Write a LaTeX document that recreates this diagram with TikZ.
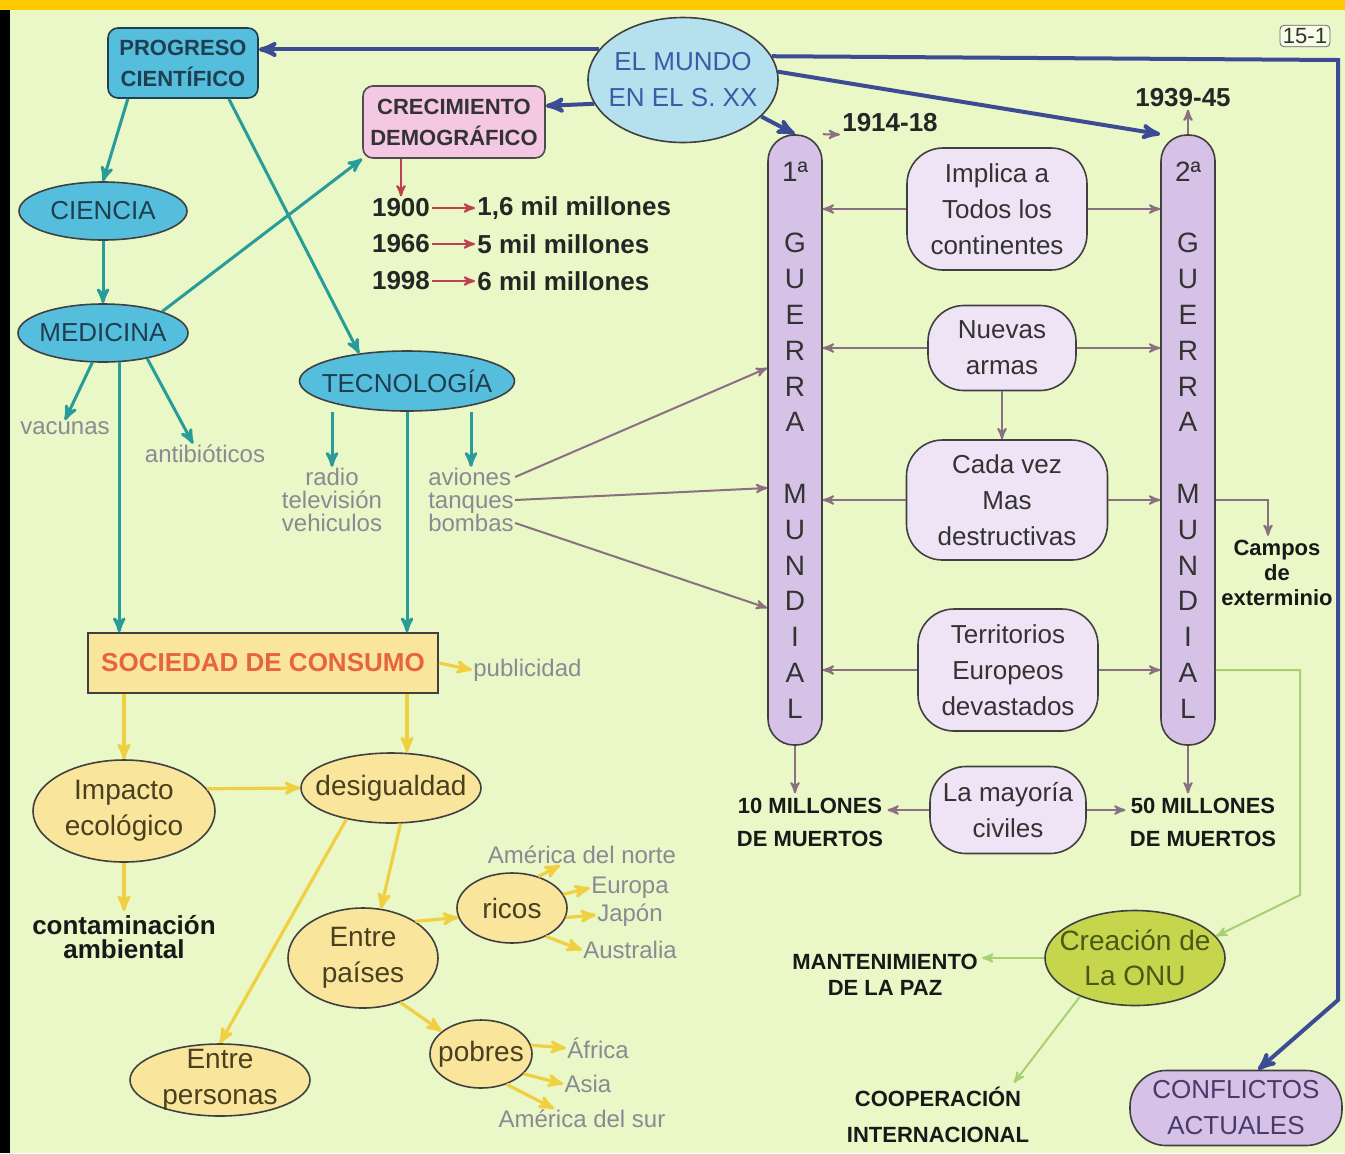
\documentclass[tikz,border=0pt]{standalone}
\usepackage{fontspec}
\setmainfont{Liberation Sans}
\usetikzlibrary{shapes,arrows,positioning,shapes.geometric,calc}
\definecolor{bggreen}{HTML}{EAF7C6}
\definecolor{topbar}{HTML}{FFC800}
\definecolor{cyanfill}{HTML}{55BEDD}
\definecolor{cyanink}{HTML}{1F3F50}
\definecolor{skyfill}{HTML}{B5E0EE}
\definecolor{skyink}{HTML}{3A5CA8}
\definecolor{pinkfill}{HTML}{F4C8E2}
\definecolor{navyc}{HTML}{3C4C94}
\definecolor{tealc}{HTML}{289C98}
\definecolor{redc}{HTML}{C04050}
\definecolor{lilac}{HTML}{8A7080}
\definecolor{warfill}{HTML}{D6C2E6}
\definecolor{lilafill}{HTML}{EEE4F5}
\definecolor{yelfill}{HTML}{F9E69C}
\definecolor{yelc}{HTML}{F0D040}
\definecolor{yelink}{HTML}{4A4020}
\definecolor{orangeink}{HTML}{E8643C}
\definecolor{greyink}{HTML}{8A8A94}
\definecolor{greenc}{HTML}{A8D070}
\definecolor{onufill}{HTML}{C6D64C}
\definecolor{onuink}{HTML}{4A5818}
\definecolor{conflink}{HTML}{4A3A6A}
\definecolor{darkink}{HTML}{333333}
\begin{document}
\begin{tikzpicture}[x=0.5pt,y=-0.5pt,->,>=stealth',
    navy/.style={draw=navyc,line width=2pt},
    tealln/.style={draw=tealc,line width=1.5pt},
    yelln/.style={draw=yelc,line width=1.6pt},
    lila/.style={draw=lilac,line width=1pt},
    redln/.style={draw=redc,line width=1pt},
    greenln/.style={draw=greenc,line width=1pt},
    oval/.style={ellipse,draw=black!75,line width=.8pt,inner sep=0pt},
    blueoval/.style={oval,fill=cyanfill},
    yeloval/.style={oval,fill=yelfill},
    bluetxt/.style={text=cyanink,font=\fontsize{13}{16}\selectfont},
    yeltxt/.style={align=center,text=yelink,font=\fontsize{14}{18}\selectfont},
    lilanode/.style={draw=black!75,line width=.8pt,fill=lilafill,rounded corners=18pt,align=center,text=darkink,font=\fontsize{13}{18}\selectfont,inner sep=2pt},
    warbar/.style={draw=black!75,line width=.8pt,fill=warfill,rounded corners=13pt,minimum width=27pt,minimum height=305pt,align=center,text=darkink,font=\fontsize{14}{17.9}\selectfont,inner sep=0pt},
    greylbl/.style={text=greyink,align=center,inner sep=0.5pt,font=\fontsize{12}{11.5}\selectfont},
    note/.style={text=black!90,align=center,inner sep=2pt,font=\bfseries\fontsize{11}{16.5}\selectfont},
    year/.style={text=black!85,inner sep=1pt,font=\bfseries\fontsize{13}{16}\selectfont}]
\useasboundingbox (0,0) rectangle (1345,1153);
\fill[black] (0,0) rectangle (1345,1153);
\fill[bggreen] (10,10) rectangle (1345,1153);
\fill[topbar] (0,0) rectangle (1345,10);

\node[draw=black!60,fill=white!60!bggreen,rounded corners=2pt,inner sep=1.5pt,text=darkink,font=\fontsize{11}{13}\selectfont] (tag) at (1305,36) {15-1};
\node[oval,fill=skyfill,minimum width=95pt,minimum height=62.5pt,label={[align=center,text=skyink,font=\fontsize{13}{18}\selectfont]center:EL MUNDO\\EN EL S. XX}] (mundo) at (683,80) {};
\node[draw=cyanink,line width=.8pt,fill=cyanfill,rounded corners=5pt,minimum width=75pt,minimum height=35pt,align=center,text=cyanink,font=\bfseries\fontsize{11}{15.5}\selectfont] (prog) at (183,63) {PROGRESO\\CIENTÍFICO};
\node[draw=black!70,line width=.8pt,fill=pinkfill,rounded corners=5pt,minimum width=91pt,minimum height=36pt,align=center,text=black!80,font=\bfseries\fontsize{11}{15.5}\selectfont] (crec) at (454,122) {CRECIMIENTO\\DEMOGRÁFICO};
\node[blueoval,minimum width=84pt,minimum height=29pt,label={[bluetxt]center:CIENCIA}] (ciencia) at (103,211) {};
\node[blueoval,minimum width=85pt,minimum height=29pt,below of=ciencia,node distance=61pt,label={[bluetxt]center:MEDICINA}] (medicina) {};
\node[blueoval,minimum width=107.5pt,minimum height=30pt,label={[bluetxt]center:TECNOLOGÍA}] (tecno) at (407,381) {};
\node[greylbl] (vacunas) at (65,428) {vacunas};
\node[greylbl] (antib) at (205,454) {antibióticos};
\node[greylbl] (radio) at (332,500) {radio\\televisión\\vehiculos};
\node[greylbl,align=left] (armamento) at (471,500) {aviones\\tanques\\bombas};

\node[year] (d1900) at (401,208) {1900};
\node[year,below of=d1900,node distance=18pt] (d1966) {1966};
\node[year,below of=d1966,node distance=18.5pt] (d1998) {1998};
\node[year,anchor=west] (v1900) at (475,208) {1,6 mil millones};
\node[year,anchor=west] (v1966) at (475,244) {5 mil millones};
\node[year,anchor=west] (v1998) at (475,281) {6 mil millones};

\node[draw=black!75,line width=.8pt,fill=yelfill,minimum width=175pt,minimum height=30pt,text=orangeink,font=\bfseries\fontsize{13}{16}\selectfont] (socie) at (263,663) {SOCIEDAD DE CONSUMO};
\node[greylbl,anchor=west] (publi) at (472,670) {publicidad};
\node[yeloval,minimum width=91pt,minimum height=51pt,label={[yeltxt]center:Impacto\\ecológico}] (impacto) at (124,811) {};
\node[yeloval,minimum width=90pt,minimum height=35pt,label={[yeltxt]center:desigualdad}] (desig) at (391,788) {};
\node[note,below of=impacto,node distance=63pt,font=\bfseries\fontsize{13}{12}\selectfont] (contam) {contaminación\\ambiental};
\node[yeloval,minimum width=75pt,minimum height=50pt,label={[yeltxt]center:Entre\\países}] (paises) at (363,958) {};
\node[yeloval,minimum width=55pt,minimum height=35pt,label={[yeltxt]center:ricos}] (ricos) at (512,908) {};
\node[yeloval,minimum width=51pt,minimum height=34pt,label={[yeltxt]center:pobres}] (pobres) at (481,1054) {};
\node[yeloval,minimum width=90pt,minimum height=36pt,label={[yeltxt]center:Entre\\personas}] (personas) at (220,1080) {};
\node[greylbl] (amnorte) at (582,855) {América del norte};
\node[greylbl] (europa) at (630,888) {Europa};
\node[greylbl] (japon) at (630,915) {Japón};
\node[greylbl] (austr) at (630,950) {Australia};
\node[greylbl] (africa) at (598,1048) {África};
\node[greylbl] (asia) at (588,1084) {Asia};
\node[greylbl] (amsur) at (582,1119) {América del sur};

\node[warbar] (g1) at (795,440) {1ª\\[17.9pt]G\\U\\E\\R\\R\\A\\[17.9pt]M\\U\\N\\D\\I\\A\\L};
\node[warbar,right of=g1,node distance=196.5pt] (g2) {2ª\\[17.9pt]G\\U\\E\\R\\R\\A\\[17.9pt]M\\U\\N\\D\\I\\A\\L};
\node[year] (f1) at (890,123) {1914-18};
\node[year] (f2) at (1183,98) {1939-45};
\node[lilanode,minimum width=90pt,minimum height=61pt] (impl) at (997,209) {Implica a\\Todos los\\continentes};
\node[lilanode,minimum width=74pt,minimum height=42.5pt] (armas) at (1002,348) {Nuevas\\armas};
\node[lilanode,minimum width=100.5pt,minimum height=60pt] (cada) at (1007,500) {Cada vez\\Mas\\destructivas};
\node[lilanode,minimum width=90pt,minimum height=61pt] (terr) at (1008,670) {Territorios\\Europeos\\devastados};
\node[lilanode,minimum width=78pt,minimum height=43.5pt,below of=terr,node distance=70pt] (mayor) {La mayoría\\civiles};
\node[note] (m10) at (810,822) {10 MILLONES\\DE MUERTOS};
\node[note] (m50) at (1203,822) {50 MILLONES\\DE MUERTOS};
\node[note,font=\bfseries\fontsize{11}{12.5}\selectfont] (campos) at (1277,573) {Campos\\de\\exterminio};
\node[oval,fill=onufill,minimum width=90pt,minimum height=47.5pt,label={[align=center,text=onuink,font=\fontsize{14}{17.5}\selectfont]center:Creación de\\La ONU}] (onu) at (1135,958) {};
\node[note,font=\bfseries\fontsize{11}{13}\selectfont] (paz) at (885,975) {MANTENIMIENTO\\DE LA PAZ};
\node[note,font=\bfseries\fontsize{11}{18}\selectfont] (coop) at (938,1115) {COOPERACIÓN\\INTERNACIONAL};
\node[draw=black!75,line width=.8pt,fill=warfill,rounded corners=18pt,minimum width=106pt,minimum height=37.5pt,align=center,text=conflink,font=\fontsize{13}{18}\selectfont] (confl) at (1236,1108) {CONFLICTOS\\ACTUALES};

\coordinate (c1) at (1338,60);
\coordinate (c2) at (1338,1000);
\coordinate (onubend) at (1300,895);

\path
    (mundo.160) edge[navy] (mundo.160 -| prog.east)
    (mundo.195) edge[navy] (crec.10)
    (mundo.-25) edge[navy] (g1.north)
    (mundo.5) edge[navy] (g2.north west)
    (prog.-147) edge[tealln] (ciencia.north)
    (prog.-38) edge[tealln] (tecno.150)
    (ciencia.south) edge[tealln] (medicina.north)
    (medicina.20) edge[tealln] (crec.south west)
    (medicina.-110) edge[tealln] (vacunas.north)
    (medicina.-30) edge[tealln] ([xshift=-6pt]antib.north)
    (medicina.-61) edge[tealln] (medicina.-61 |- socie.north)
    (radio.north |- tecno.south) edge[tealln] (radio.north)
    (armamento.north |- tecno.south) edge[tealln] (armamento.north)
    (tecno.south) edge[tealln] (tecno.south |- socie.north)
    (crec.south -| d1900.north) edge[redln] (d1900.north)
    (d1900.east) edge[redln] (v1900.west)
    (d1966.east) edge[redln] (v1966.west)
    (d1998.east) edge[redln] (v1998.west)
    ([yshift=11.5pt]armamento.east) edge[lila] ([yshift=36pt]g1.west)
    (armamento.east) edge[lila] ([yshift=-24pt]g1.west)
    ([yshift=-11.5pt]armamento.east) edge[lila] ([yshift=-84pt]g1.west)
    (impl.west) edge[lila] (impl.west -| g1.east)
    (impl.east) edge[lila] (impl.east -| g2.west)
    (armas.west) edge[lila] (armas.west -| g1.east)
    (armas.east) edge[lila] (armas.east -| g2.west)
    (cada.west) edge[lila] (cada.west -| g1.east)
    (cada.east) edge[lila] (cada.east -| g2.west)
    (terr.west) edge[lila] (terr.west -| g1.east)
    (terr.east) edge[lila] (terr.east -| g2.west)
    (armas.south) edge[lila] (armas.south |- cada.north)
    (g1.south) edge[lila] (g1.south |- m10.north)
    (g2.south) edge[lila] (g2.south |- m50.north)
    (mayor.west) edge[lila] (mayor.west -| m10.east)
    (mayor.east) edge[lila] (mayor.east -| m50.west)
    (g1.north east) edge[lila] (f1.south west)
    (g2.north) edge[lila] (g2.north |- f2.south)
    (impacto.north |- socie.south) edge[yelln] (impacto.north)
    (tecno.south |- socie.south) edge[yelln] (tecno.south |- desig.north)
    (socie.east) edge[yelln] (publi.west)
    (impacto.15) edge[yelln] (desig.west)
    (impacto.south) edge[yelln] (contam.north)
    (desig.-75) edge[yelln] (paises.70)
    (desig.-145) edge[yelln] (personas.north)
    (paises.35) edge[yelln] (ricos.190)
    (paises.-50) edge[yelln] (pobres.150)
    (ricos.50) edge[yelln] ([xshift=-11pt]amnorte.south)
    (ricos.15) edge[yelln] (europa.west)
    (ricos.-10) edge[yelln] (japon.west)
    (ricos.-40) edge[yelln] (austr.west)
    (pobres.10) edge[yelln] (africa.west)
    (pobres.-25) edge[yelln] (asia.west)
    (pobres.-50) edge[yelln] ([xshift=-14pt]amsur.north)
    (onu.west) edge[greenln] (onu.west -| paz.east)
    (onu.-145) edge[greenln] ([xshift=38pt]coop.north)
;
\draw[lila] (cada.east -| g2.east) -| ([xshift=-4.5pt]campos.north);
\draw[greenln] (terr.east -| g2.east) -| (onubend) -- (onu.15);
\draw[navy] (mundo.15) -- (c1) -- (c2) -- (confl.60);
\end{tikzpicture}
\end{document}
